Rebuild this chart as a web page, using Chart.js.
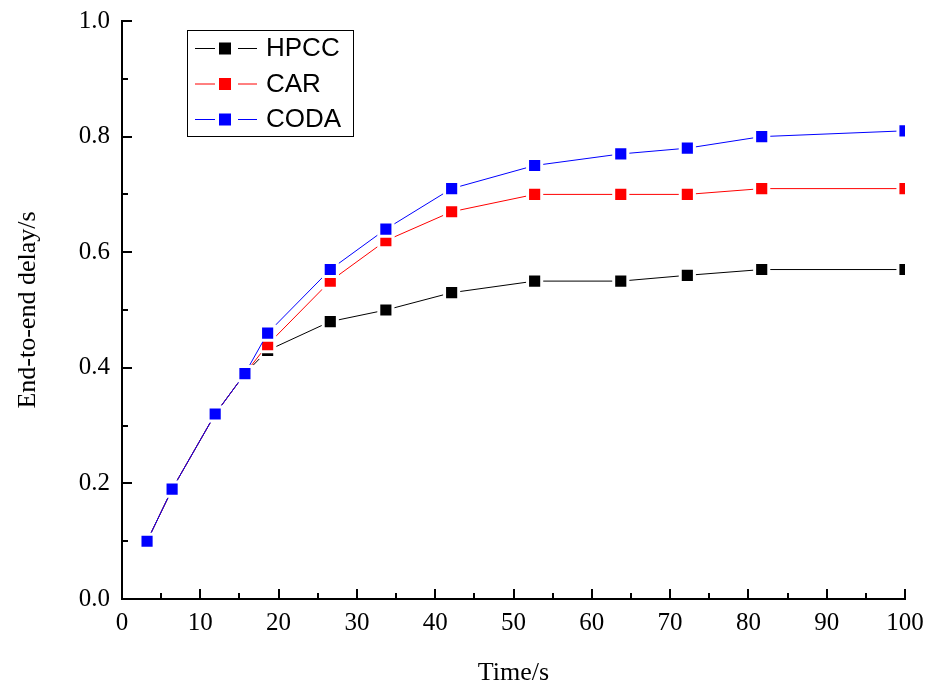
<!DOCTYPE html>
<html>
<head>
<meta charset="utf-8">
<script src="https://cdn.jsdelivr.net/npm/chart.js@4/dist/chart.umd.min.js"></script>
<style>
html,body{margin:0;padding:0;background:#fff;}
#wrap{width:929px;height:689px;}
</style>
</head>
<body>
<div id="wrap"><canvas id="c" width="929" height="689"></canvas></div>
<script>
const timeValues = [3.2, 6.4, 11.9, 15.7, 18.6, 26.6, 33.7, 42.1, 52.7, 63.7, 72.2, 81.7, 100];
const hpcc = [0.10, 0.19, 0.32, 0.39, 0.43, 0.48, 0.50, 0.53, 0.55, 0.55, 0.56, 0.57, 0.57];
const car  = [0.10, 0.19, 0.32, 0.39, 0.44, 0.55, 0.62, 0.67, 0.70, 0.70, 0.70, 0.71, 0.71];
const coda = [0.10, 0.19, 0.32, 0.39, 0.46, 0.57, 0.64, 0.71, 0.75, 0.77, 0.78, 0.80, 0.81];
const seriesNames = ['HPCC', 'CAR', 'CODA'];
const seriesColors = ['#000000', '#ff0000', '#0000ff'];
const xTicks = [0,10,20,30,40,50,60,70,80,90,100];
const yTicks = [0.0,0.2,0.4,0.6,0.8,1.0];

function pts(vals){ return vals.map((v,i)=>({x: timeValues[i], y: v})); }

function ds(label, data, color, order){
  return {
    label: label, data: pts(data), order: order,
    borderColor: color, backgroundColor: color,
    borderWidth: 1,
    pointStyle: 'rect', pointRadius: 10, pointHoverRadius: 10,
    pointBackgroundColor: color, pointBorderColor: '#ffffff', pointBorderWidth: 3,
    tension: 0
  };
}

const serif = "'Liberation Serif', 'Times New Roman', serif";
const sans = "'Liberation Sans', Arial, sans-serif";

const tickPlugin = {
  id: 'inTicks',
  afterDraw(chart){
    const ctx = chart.ctx, a = chart.chartArea;
    const xs = chart.scales.x, ys = chart.scales.y;
    ctx.save();
    ctx.strokeStyle = '#000'; ctx.lineWidth = 2;
    for(let v=0; v<=100; v+=5){
      const px = Math.round(xs.getPixelForValue(v));
      const len = (v%10===0)?10:6;
      ctx.beginPath(); ctx.moveTo(px, a.bottom); ctx.lineTo(px, a.bottom-len); ctx.stroke();
    }
    for(let k=0; k<=10; k++){
      const v = k/10;
      const py = Math.round(ys.getPixelForValue(v));
      const len = (k%2===0)?10:6;
      ctx.beginPath(); ctx.moveTo(a.left, py); ctx.lineTo(a.left+len, py); ctx.stroke();
    }
    // legend
    const bx=187, by=30, bw=166, bh=106;
    ctx.lineWidth=1; ctx.strokeStyle='#000';
    ctx.fillStyle='#fff'; ctx.fillRect(bx,by,bw,bh);
    ctx.strokeRect(bx+0.5,by+0.5,bw,bh);
    seriesNames.forEach((name,i)=>{
      const y = 48 + i*35.5;
      const col = seriesColors[i];
      ctx.strokeStyle = col; ctx.lineWidth=1;
      ctx.beginPath(); ctx.moveTo(195,y+0.5); ctx.lineTo(215,y+0.5); ctx.moveTo(238,y+0.5); ctx.lineTo(257,y+0.5); ctx.stroke();
      ctx.fillStyle = col; ctx.fillRect(219,y-5.5,12,12);
      ctx.fillStyle='#000'; ctx.font = "26px " + sans; ctx.textBaseline='middle'; ctx.textAlign='left';
      ctx.fillText(name, 266, y+1);
    });
    ctx.restore();
  }
};

new Chart(document.getElementById('c'), {
  type: 'line',
  data: { datasets: [ds(seriesNames[0], hpcc, seriesColors[0], 2), ds(seriesNames[1], car, seriesColors[1], 1), ds(seriesNames[2], coda, seriesColors[2], 0)] },
  options: {
    responsive: false, animation: false, devicePixelRatio: 1,
    layout: { padding: { left: 0, top: 21, right: 24, bottom: 0 } },
    plugins: { legend: { display: false }, tooltip: { enabled: false } },
    scales: {
      x: {
        type: 'linear', min: 0, max: 100,
        afterBuildTicks: s => { s.ticks = xTicks.map(v=>({value:v})); },
        afterFit: s => { s.height = 90; s.paddingLeft = 0; s.paddingRight = 0; },
        grid: { display: true, drawOnChartArea: false, drawTicks: false },
        border: { display: true, color: '#000', width: 2 },
        ticks: { color: '#000', font: { family: serif, size: 25 }, padding: 9, maxRotation: 0, callback: v => String(v) },
        title: { display: true, text: 'Time/s', color: '#000', font: { family: serif, size: 26 }, padding: { top: 10, bottom: 0 } }
      },
      y: {
        type: 'linear', min: 0, max: 1,
        afterBuildTicks: s => { s.ticks = yTicks.map(v=>({value:v})); },
        afterFit: s => { s.width = 122; s.paddingTop = 0; s.paddingBottom = 0; },
        grid: { display: true, drawOnChartArea: false, drawTicks: false },
        border: { display: true, color: '#000', width: 2 },
        ticks: { color: '#000', font: { family: serif, size: 25 }, padding: 12, callback: v => Number(v).toFixed(1) },
        title: { display: true, text: 'End-to-end delay/s', color: '#000', font: { family: serif, size: 26 }, padding: { top: 13, bottom: 6 } }
      }
    }
  },
  plugins: [tickPlugin]
});
</script>
</body>
</html>
